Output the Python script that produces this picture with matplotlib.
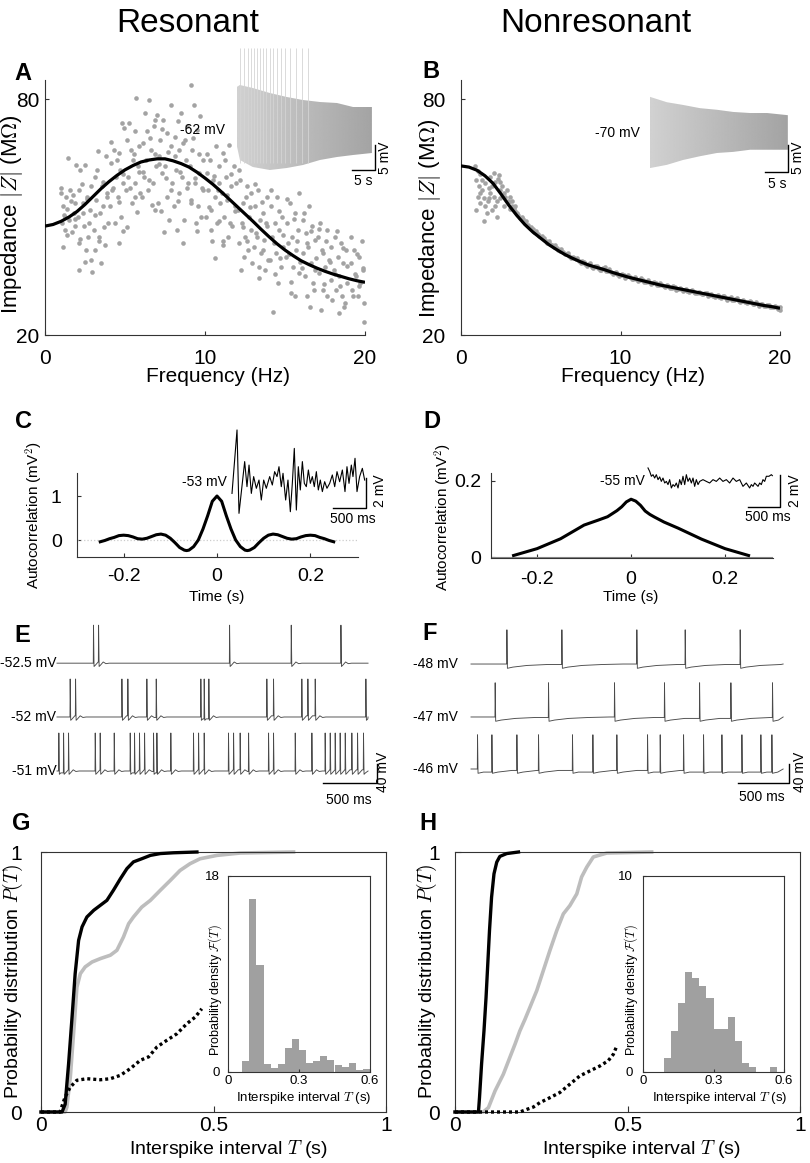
import numpy as np
import matplotlib
matplotlib.use('Agg')
import matplotlib.pyplot as plt

plt.rcParams['font.family'] = ['Liberation Sans', 'DejaVu Sans']
plt.rcParams['mathtext.fontset'] = 'cm'
plt.rcParams['axes.unicode_minus'] = False

# ---------------- data ----------------
# Panel A: resonant impedance scatter (Hz, MOhm)
imp_res_f = [1.45, 1.95, 1.0, 1.3, 1.6, 1.1, 1.8, 1.25, 1.5, 1.05, 1.7, 1.35, 1.15, 1.9, 1.2, 1.85,
             2.5, 2.2, 2.9, 2.1, 2.6, 2.35, 2.8, 2.05, 2.45, 2.7, 2.15, 2.55, 2.1, 2.95, 2.85,
             3.3, 3.8, 3.1, 3.55, 3.9, 3.2, 3.65, 3.45, 3.95, 3.05, 3.35, 3.75, 3.5, 3.15,
             4.8, 4.95, 4.3, 4.6, 4.1, 4.7, 4.45, 4.9, 4.2, 4.55, 4.05, 4.75, 4.35, 4.65,
             5.7, 5.6, 5.1, 5.9, 5.35, 5.5, 5.8, 5.2, 5.65, 5.05, 5.95, 5.45, 5.75,
             6.5, 6.9, 6.8, 6.4, 6.1, 6.6, 6.3, 6.95, 6.2, 6.75, 6.45, 6.05, 6.85,
             7.9, 7.0, 7.4, 7.6, 7.2, 7.85, 7.1, 7.5, 7.3, 7.95, 7.65, 7.05, 7.75, 7.45,
             8.5, 8.9, 8.1, 8.6, 8.35, 8.8, 8.2, 8.55, 8.95, 8.4, 8.05, 8.7, 8.25, 8.65,
             9.1, 9.3, 9.7, 9.5, 9.2, 9.85, 9.05, 9.6, 9.35, 9.9, 9.15, 9.55, 9.75, 9.45,
             10.7, 10.3, 10.9, 10.1, 10.5, 10.85, 10.2, 10.6, 10.95, 10.4, 10.05, 10.75, 10.35, 10.65,
             11.5, 11.1, 11.8, 11.3, 11.95, 11.6, 11.05, 11.4, 11.85, 11.2, 11.7, 11.45, 11.15,
             12.2, 12.6, 12.9, 12.4, 12.05, 12.75, 12.3, 12.85, 12.5, 12.15, 12.7, 12.45, 12.95,
             13.3, 13.9, 13.1, 13.6, 13.45, 13.85, 13.2, 13.7, 13.05, 13.5, 13.95, 13.35, 13.75,
             14.5, 14.1, 14.8, 14.35, 14.65, 14.2, 14.9, 14.45, 14.05, 14.75, 14.55, 14.25,
             15.9, 15.3, 15.6, 15.1, 15.8, 15.45, 15.2, 15.7, 15.05, 15.5, 15.85, 15.35, 15.65,
             16.5, 16.1, 16.7, 16.3, 16.9, 16.45, 16.15, 16.6, 16.85, 16.25, 16.75, 16.35, 16.55,
             17.2, 17.6, 17.05, 17.9, 17.35, 17.75, 17.5, 17.1, 17.85, 17.4, 17.65, 17.25,
             18.1, 18.5, 18.8, 18.3, 18.65, 18.05, 18.4, 18.9, 18.2, 18.55, 18.75, 18.35,
             19.8, 19.3, 19.6, 19.1, 19.9, 19.45, 19.7, 19.2, 19.55, 19.95, 19.95,
             1.02, 1.55, 1.75, 1.4, 1.9, 1.22, 2.3, 2.65, 2.4, 2.75, 2.2, 2.5,
             3.25, 3.6, 3.85, 3.1, 3.7, 3.4, 4.15, 4.5, 4.85, 4.25, 4.6, 4.9,
             5.25, 5.55, 5.85, 5.3, 5.6, 5.15, 6.25, 6.55, 6.85, 6.15, 6.5, 6.7,
             7.3, 7.7, 7.15, 7.55, 7.85, 7.25, 8.3, 8.75, 8.15, 8.45, 8.85, 8.3,
             9.25, 9.65, 9.4, 9.8, 9.1, 9.5, 10.15, 10.55, 10.8, 10.25, 10.9, 10.45,
             11.25, 11.65, 11.35, 11.9, 11.55, 11.1, 12.1, 12.55, 12.8, 12.35, 12.65, 12.25,
             13.15, 13.55, 13.8, 13.25, 13.65, 13.4, 14.15, 14.6, 14.85, 14.3, 14.7, 14.4,
             15.15, 15.55, 15.75, 15.25, 15.95, 15.4, 16.2, 16.65, 16.4, 16.95, 16.05, 16.8,
             17.15, 17.55, 17.3, 17.8, 17.45, 17.95, 18.25, 18.6, 18.85, 18.15, 18.45, 18.7,
             19.15, 19.5, 19.85, 19.35, 19.65, 19.25]
imp_res_z = [65.0, 63.3, 56.1, 55.2, 54.0, 52.7, 51.0, 50.1, 49.3, 48.4, 46.3, 45.5, 42.5, 53.5, 50.5, 47.6,
             63.3, 62.0, 57.8, 56.9, 55.2, 53.5, 51.8, 50.1, 47.6, 45.0, 43.3, 41.6, 36.6, 36.1, 39.1,
             66.7, 65.4, 60.3, 57.8, 56.1, 54.4, 52.7, 51.0, 48.4, 46.7, 43.8, 42.9, 38.3, 41.6,
             73.9, 72.6, 67.1, 66.3, 63.7, 62.0, 60.3, 58.6, 56.9, 55.2, 52.7, 50.1, 48.4, 43.3,
             80.3, 71.8, 69.7, 68.0, 67.1, 64.6, 62.9, 60.3, 58.6, 56.9, 56.1, 53.5, 51.4,
             79.8, 74.8, 73.1, 71.8, 68.8, 67.1, 64.6, 62.9, 60.3, 58.6, 56.9, 55.2, 51.8,
             78.6, 76.0, 74.8, 71.4, 69.7, 68.0, 65.4, 62.9, 61.2, 58.6, 55.2, 53.5, 49.3, 46.3,
             76.5, 73.1, 70.3, 68.8, 67.1, 64.6, 62.0, 60.3, 58.6, 56.1, 52.7, 49.3, 46.7, 43.3,
             83.7, 78.6, 75.6, 72.2, 67.1, 64.6, 62.9, 61.2, 58.6, 56.9, 54.4, 52.7, 50.1, 48.4,
             68.0, 64.6, 62.9, 61.2, 59.5, 58.6, 56.9, 55.2, 53.5, 51.8, 50.1, 48.4, 46.7, 39.5,
             68.4, 66.3, 62.9, 60.3, 58.6, 57.8, 56.1, 54.4, 52.7, 50.1, 47.6, 45.0, 42.9,
             59.5, 57.8, 56.1, 53.5, 51.8, 50.1, 48.4, 46.7, 45.0, 43.3, 41.6, 39.9, 38.3,
             56.9, 55.2, 52.7, 51.0, 49.3, 47.6, 45.9, 44.2, 42.5, 40.8, 39.1, 37.4, 36.6,
             55.2, 52.7, 50.1, 48.4, 46.7, 45.0, 42.5, 40.8, 39.1, 37.4, 33.2, 25.9,
             56.1, 53.5, 51.0, 48.4, 46.7, 45.0, 43.3, 41.6, 39.9, 37.4, 35.7, 30.6, 29.8,
             52.7, 49.3, 47.6, 45.9, 44.2, 42.5, 40.8, 38.3, 36.6, 34.9, 33.2, 29.8, 27.2,
             48.4, 46.7, 45.0, 42.5, 40.8, 39.1, 37.4, 35.7, 34.0, 31.5, 29.8, 26.4,
             45.0, 43.3, 41.6, 39.9, 38.3, 36.6, 34.9, 33.2, 31.5, 29.8, 28.1, 25.5,
             43.8, 41.6, 39.9, 38.3, 36.6, 34.9, 33.2, 31.5, 29.8, 28.1, 23.4,
             57.5, 57.0, 55.5, 52.0, 49.5, 46.8, 58.5, 54.5, 51.0, 48.5, 44.5, 38.5,
             62.0, 59.0, 55.0, 50.5, 47.5, 45.0, 69.0, 64.5, 61.0, 57.5, 53.8, 46.5,
             74.0, 66.0, 61.5, 57.5, 55.0, 47.5, 76.5, 70.0, 66.0, 61.5, 59.5, 53.0,
             72.5, 66.5, 63.5, 60.0, 57.0, 51.5, 74.5, 69.5, 65.5, 61.5, 57.5, 54.0,
             70.0, 66.0, 60.0, 57.5, 53.5, 46.5, 66.0, 60.5, 57.0, 52.5, 49.0, 44.0,
             64.5, 61.0, 55.5, 51.5, 48.5, 44.0, 62.0, 55.0, 52.5, 47.5, 44.0, 36.5,
             58.5, 53.8, 48.5, 45.0, 41.5, 34.5, 57.0, 51.5, 45.5, 43.5, 39.5, 35.5,
             54.5, 49.5, 44.0, 40.5, 38.5, 33.5, 51.0, 46.5, 43.5, 39.5, 37.0, 31.5,
             47.0, 44.0, 41.5, 38.5, 33.0, 29.0, 46.5, 42.0, 37.5, 35.5, 32.5, 27.0,
             45.0, 40.5, 37.0, 35.5, 32.5, 30.0]

fit_f = [0, 0.5, 1, 1.5, 2, 2.5, 3, 3.5, 4, 4.5, 5, 5.5, 6, 6.5, 7, 7.5, 8, 8.5, 9, 9.5, 10,
         10.5, 11, 11.5, 12, 12.5, 13, 13.5, 14, 14.5, 15, 15.5, 16, 16.5, 17, 17.5, 18, 18.5, 19, 19.5, 20]
fit_res_z = [47.7, 48.1, 48.9, 50.0, 51.4, 53.2, 55.2, 57.2, 59.0, 60.6, 62.0, 63.1, 64.0, 64.5, 64.8, 64.8,
             64.3, 63.6, 62.7, 61.4, 59.9, 58.3, 56.5, 54.6, 52.7, 50.8, 48.9, 46.9, 45.0, 43.2, 41.6,
             40.2, 38.9, 37.9, 37.0, 36.2, 35.5, 34.9, 34.3, 33.8, 33.4]
fit_nonres_z = [63.0, 62.7, 61.9, 60.5, 58.6, 55.9, 53.0, 50.4, 48.1, 46.2, 44.6, 43.0, 41.7, 40.5, 39.5,
                38.6, 37.8, 37.2, 36.6, 35.9, 35.3, 34.7, 34.2, 33.7, 33.2, 32.7, 32.3, 31.9, 31.5, 31.1,
                30.7, 30.3, 29.9, 29.5, 29.1, 28.7, 28.3, 27.9, 27.5, 27.2, 26.8]

# Panel B: nonresonant impedance scatter
imp_nonres_f = [0.9, 1.04, 1.21, 0.96, 1.1, 1.3, 1.04, 1.42, 1.21, 0.96, 1.52, 1.67, 1.84, 1.94, 2.15, 2.3,
                2.46, 1.52, 1.73, 2.05, 2.25, 2.42, 2.57, 2.67, 2.78, 2.92, 2.15, 1.63, 1.42, 2.25, 1.94,
                1.32, 1.8, 2.09, 2.36, 1.21, 1.73, 2.46, 2.71, 2.88, 3.09, 3.19, 3.4,
                3.0, 3.2, 3.4, 3.6, 3.8, 4.0, 4.2, 4.4, 4.6, 4.8, 5.0, 5.2, 5.4, 5.6, 5.8, 6.0, 6.2, 6.4,
                6.6, 6.8, 7.0, 7.2, 7.4, 7.6, 7.8, 8.0, 8.2, 8.4, 8.6, 8.8, 9.0, 9.2, 9.4, 9.6, 9.8, 10.0,
                10.2, 10.4, 10.6, 10.8, 11.0, 11.2, 11.4, 11.6, 11.8, 12.0, 12.2, 12.4, 12.6, 12.8, 13.0,
                13.2, 13.4, 13.6, 13.8, 14.0, 14.2, 14.4, 14.6, 14.8, 15.0, 15.2, 15.4, 15.6, 15.8, 16.0,
                16.2, 16.4, 16.6, 16.8, 17.0, 17.2, 17.4, 17.6, 17.8, 18.0, 18.2, 18.4, 18.6, 18.8, 19.0,
                19.2, 19.4, 19.6, 19.8, 20.0,
                3.1, 3.3, 3.5, 3.7, 3.9, 4.1, 4.3, 4.5, 4.7, 4.9, 5.1, 5.3, 5.5, 5.7, 5.9, 6.1, 6.3, 6.5,
                6.7, 6.9, 7.1, 7.3, 7.5, 7.7, 7.9, 8.1, 8.3, 8.5, 8.7, 8.9, 9.1, 9.3, 9.5, 9.7, 9.9, 10.1,
                10.3, 10.5, 10.7, 10.9, 11.1, 11.3, 11.5, 11.7, 11.9, 12.1, 12.3, 12.5, 12.7, 12.9, 13.1,
                13.3, 13.5, 13.7, 13.9, 14.1, 14.3, 14.5, 14.7, 14.9, 15.1, 15.3, 15.5, 15.7, 15.9, 16.1,
                16.3, 16.5, 16.7, 16.9, 17.1, 17.3, 17.5, 17.7, 17.9, 18.1, 18.3, 18.5, 18.7, 18.9, 19.1,
                19.3, 19.5, 19.7, 19.9, 20.0]
imp_nonres_z = [62.9, 61.6, 61.0, 59.5, 57.8, 56.9, 55.2, 54.8, 53.5, 51.8, 52.7, 54.0, 56.1, 57.8, 59.0, 59.6,
                59.0, 58.6, 57.4, 55.2, 54.0, 56.9, 57.8, 56.1, 55.2, 54.0, 52.7, 51.0, 48.9, 50.1, 51.8,
                59.5, 60.2, 61.2, 60.7, 56.1, 54.8, 54.8, 52.7, 56.9, 55.2, 54.0, 52.7,
                53.8, 52.9, 51.5, 50.6, 49.9, 48.6, 48.0, 47.5, 46.2, 45.8, 45.0, 44.6, 43.5, 43.2, 42.4,
                42.2, 41.3, 41.0, 40.6, 40.0, 39.9, 39.3, 38.8, 38.8, 38.0, 38.0, 37.4, 37.6, 37.0, 36.6,
                37.4, 36.4, 36.0, 35.8, 35.6, 35.2, 35.3, 34.9, 34.8, 34.2, 34.3, 34.0, 33.9, 33.4, 33.5,
                33.1, 33.2, 32.8, 32.7, 32.3, 32.4, 32.0, 32.1, 31.7, 31.6, 31.5, 31.2, 31.3, 30.9, 30.8,
                30.7, 30.4, 30.6, 30.1, 30.0, 29.9, 29.7, 29.8, 29.3, 29.4, 29.0, 29.1, 28.7, 28.6, 28.5,
                28.3, 28.4, 28.0, 27.8, 27.9, 27.4, 27.6, 27.2, 27.0, 27.1, 26.4,
                52.0, 52.3, 51.0, 49.7, 49.6, 48.9, 47.2, 47.0, 46.5, 45.2, 45.3, 44.0, 43.9, 42.8, 42.9,
                41.6, 41.8, 40.5, 40.8, 39.6, 39.6, 39.5, 38.4, 38.6, 37.6, 38.3, 37.1, 37.5, 36.6, 37.1,
                36.2, 36.7, 35.6, 36.1, 35.0, 35.6, 34.6, 35.2, 34.3, 34.7, 33.8, 34.4, 33.5, 33.9, 33.0,
                33.5, 32.6, 33.1, 32.4, 32.8, 31.9, 32.4, 31.5, 32.0, 31.2, 31.7, 30.9, 31.4, 30.6, 31.0,
                30.3, 30.8, 30.0, 30.4, 29.7, 30.2, 29.4, 29.9, 29.0, 29.6, 28.8, 29.3, 28.4, 28.9, 28.1,
                28.6, 27.9, 28.3, 27.5, 28.0, 27.3, 27.7, 27.0, 27.4, 26.6, 27.0]

# chirp insets (s, mV relative to holding potential)
chirp_res_t = [0.8, 1.5, 4.3, 8.0, 11.7, 15.2, 18.9, 22.6, 26.1, 30.2]
chirp_res_up = [8.6, 9.0, 8.4, 7.4, 6.6, 6.0, 5.6, 5.4, 4.6, 4.6]
chirp_res_lo = [-3.0, -6.0, -7.4, -8.0, -7.6, -7.0, -6.0, -5.4, -5.0, -4.6]
chirp_res_spikes = [1.5, 2.4, 3.3, 3.9, 4.6, 5.2, 5.9, 6.5, 7.2, 8.0, 8.7, 9.6, 10.4, 11.3, 12.4, 13.7, 15.0, 16.3]
chirp_res_spike_top = 16.4
chirp_non_t = [0.4, 4.1, 7.6, 11.3, 15.0, 18.5, 22.2, 25.9, 30.4]
chirp_non_up = [6.7, 5.7, 5.2, 4.6, 4.3, 3.9, 3.7, 3.7, 3.3]
chirp_non_lo = [-6.5, -5.9, -5.0, -4.3, -3.7, -3.5, -3.1, -3.1, -3.1]

# Panel C/D autocorrelation
ac_res_t = [-0.25, -0.24, -0.23, -0.22, -0.21, -0.2, -0.19, -0.18, -0.17, -0.16, -0.15, -0.14, -0.13, -0.12,
            -0.11, -0.1, -0.09, -0.08, -0.07, -0.065, -0.06, -0.05, -0.04, -0.03, -0.02, -0.01, 0,
            0.01, 0.02, 0.03, 0.04, 0.05, 0.06, 0.065, 0.07, 0.08, 0.09, 0.1, 0.11, 0.12, 0.13, 0.14,
            0.15, 0.16, 0.17, 0.18, 0.19, 0.2, 0.21, 0.22, 0.23, 0.24, 0.25]
ac_res_v = [-0.04, -0.01, 0.03, 0.06, 0.10, 0.11, 0.10, 0.07, 0.03, 0.02, 0.04, 0.08, 0.12, 0.135,
            0.11, 0.04, -0.06, -0.17, -0.23, -0.24, -0.23, -0.15, 0.0, 0.25, 0.55, 0.88, 1.0,
            0.88, 0.55, 0.25, 0.0, -0.15, -0.23, -0.24, -0.23, -0.17, -0.06, 0.04, 0.11, 0.135, 0.12, 0.08,
            0.04, 0.02, 0.03, 0.07, 0.10, 0.11, 0.10, 0.06, 0.03, -0.01, -0.04]
ac_non_t = [-0.25, -0.2, -0.15, -0.1, -0.07, -0.05, -0.04, -0.03, -0.02, -0.01, 0, 0.01, 0.02, 0.03, 0.04,
            0.05, 0.07, 0.1, 0.15, 0.2, 0.25]
ac_non_v = [0.004, 0.022, 0.048, 0.084, 0.097, 0.106, 0.114, 0.122, 0.132, 0.145, 0.152, 0.147, 0.136,
            0.121, 0.112, 0.105, 0.092, 0.076, 0.047, 0.022, 0.004]

# voltage traces in the C/D insets (s, mV re holding)
vt_res_t = [0, 0.076, 0.106, 0.192, 0.227, 0.258, 0.293, 0.328, 0.369, 0.409, 0.444, 0.48, 0.52, 0.571,
            0.611, 0.646, 0.682, 0.712, 0.747, 0.773, 0.813, 0.848, 0.884, 0.914, 0.944, 0.975, 1.005,
            1.035, 1.066, 1.096, 1.126, 1.157, 1.187, 1.217, 1.247, 1.278, 1.308, 1.338, 1.369, 1.404,
            1.439, 1.48, 1.52, 1.556, 1.591, 1.631, 1.672, 1.712, 1.742, 1.773, 1.808, 1.833, 1.864,
            1.894, 1.934, 1.975, 2.01]
vt_res_v = [-0.56, 3.67, -1.89, 1.56, -0.11, 1.33, -0.56, 0.56, -0.22, 0.33, -1.0, 0.33, -0.22, 0.56,
            0.0, 0.89, 0.56, 1.22, -0.11, 0.78, -1.0, 0.33, -1.78, 0.11, 2.44, -1.67, 1.22,
            -0.33, 1.56, 0.11, -0.11, 1.0, 0.11, 0.56, -0.11, 0.89, -0.33, 0.33, -0.44, 0.22,
            -0.22, 0.11, 0.67, -0.11, 0.89, 0.22, 1.0, -0.44, 1.22, 0.11, 1.33, 0.56, 1.78,
            -0.44, 0.56, 1.11, 0.33]
vt_non_t = [0.0, 0.025, 0.051, 0.076, 0.101, 0.126, 0.152, 0.177, 0.202, 0.227, 0.253, 0.278, 0.303, 0.328,
            0.354, 0.379, 0.404, 0.429, 0.455, 0.48, 0.505, 0.53, 0.556, 0.581, 0.606, 0.631, 0.657,
            0.682, 0.707, 0.732, 0.758, 0.783, 0.833, 0.884, 0.934, 0.985, 1.035, 1.086, 1.136, 1.187,
            1.237, 1.288, 1.338, 1.389, 1.439, 1.49, 1.54, 1.566, 1.591, 1.616, 1.641, 1.667, 1.692,
            1.717, 1.742, 1.768, 1.793, 1.833, 1.869, 1.884]
vt_non_v = [0.94, 0.73, 0.42, 0.52, 0.31, 0.52, 0.21, 0.38, 0.1, 0.31, 0.0, 0.1, -0.1, 0.21, -0.31, -0.1,
            -0.21, 0.0, -0.31, 0.21, -0.1, 0.42, -0.1, 0.52, 0.1, 0.31, 0.0, 0.31, -0.21, 0.21, -0.1, 0.1,
            0.21, 0.1, 0.0, 0.21, 0.1, 0.31, 0.1, 0.21, 0.0, 0.31, 0.1, 0.21, -0.21, 0.0, -0.31, -0.1,
            -0.21, 0.0, -0.1, -0.21, 0.0, -0.1, 0.21, 0.1, 0.42, 0.42, 0.52, 0.46]

# Panel E/F spike times (s)
spk_res_rows = [[0.336, 0.383, 1.596, 2.167, 2.627],
                [0.120, 0.170, 0.599, 0.654, 0.830, 0.917, 1.330, 1.361, 1.404, 1.941, 2.003, 2.265,
                 2.321, 2.389, 2.858],
                [0.015, 0.059, 0.105, 0.352, 0.398, 0.528, 0.676, 0.716, 0.762, 0.809, 0.892, 0.923,
                 1.052, 1.262, 1.309, 1.361, 1.586, 1.633, 1.694, 1.772, 1.957, 2.003, 2.204, 2.358,
                 2.481, 2.528, 2.574, 2.620, 2.667, 2.728, 2.781, 2.836]]
spk_res_labels = ['-52.5 mV', '-52 mV', '-51 mV']
spk_non_rows = [[0.350, 0.889, 1.624, 2.098, 2.637],
                [0.235, 0.758, 1.405, 1.895, 2.239, 2.546, 2.954],
                [0.062, 0.203, 0.448, 0.660, 0.993, 1.193, 1.428, 1.729, 1.853, 2.082, 2.278, 2.458,
                 2.654, 2.840, 2.948]]
spk_non_labels = ['-48 mV', '-47 mV', '-46 mV']

# Panel G/H cumulative ISI distributions
cdf_res_black_T = [0, 0.061, 0.07, 0.08, 0.09, 0.099, 0.109, 0.119, 0.133, 0.153, 0.172, 0.191, 0.21, 0.23,
                   0.249, 0.268, 0.292, 0.317, 0.346, 0.384, 0.452]
cdf_res_black_P = [0, 0, 0.03, 0.186, 0.365, 0.532, 0.66, 0.712, 0.75, 0.776, 0.795, 0.814, 0.853, 0.897,
                   0.936, 0.962, 0.974, 0.987, 0.994, 0.997, 1.0]
cdf_res_gray_T = [0, 0.07, 0.075, 0.085, 0.095, 0.104, 0.114, 0.128, 0.148, 0.172, 0.201, 0.22, 0.239, 0.254,
                  0.268, 0.292, 0.317, 0.346, 0.375, 0.403, 0.432, 0.461, 0.51, 0.577, 0.732]
cdf_res_gray_P = [0, 0, 0.019, 0.135, 0.314, 0.48, 0.532, 0.558, 0.577, 0.59, 0.603, 0.622, 0.673, 0.724,
                  0.75, 0.788, 0.814, 0.853, 0.891, 0.929, 0.955, 0.974, 0.987, 0.996, 1.0]
cdf_res_dot_T = [0, 0.055, 0.07, 0.085, 0.104, 0.133, 0.172, 0.201, 0.23, 0.259, 0.288, 0.312, 0.336, 0.365,
                 0.394, 0.423, 0.447, 0.466]
cdf_res_dot_P = [0, 0, 0.058, 0.096, 0.122, 0.128, 0.124, 0.128, 0.141, 0.167, 0.199, 0.212, 0.25, 0.276,
                 0.301, 0.34, 0.365, 0.397]
cdf_non_black_T = [0, 0.068, 0.071, 0.077, 0.084, 0.09, 0.095, 0.1, 0.106, 0.113, 0.121, 0.13, 0.15, 0.184]
cdf_non_black_P = [0, 0, 0.055, 0.184, 0.312, 0.441, 0.569, 0.698, 0.826, 0.916, 0.961, 0.983, 0.994, 1.0]
cdf_non_gray_T = [0, 0.082, 0.097, 0.116, 0.14, 0.159, 0.174, 0.188, 0.203, 0.217, 0.237, 0.256, 0.275, 0.295,
                  0.314, 0.333, 0.353, 0.367, 0.382, 0.401, 0.44, 0.57]
cdf_non_gray_P = [0, 0, 0.017, 0.081, 0.145, 0.21, 0.261, 0.312, 0.357, 0.402, 0.467, 0.544, 0.621, 0.698,
                  0.762, 0.794, 0.839, 0.904, 0.942, 0.981, 0.996, 1.0]
cdf_non_dot_T = [0, 0.188, 0.208, 0.227, 0.246, 0.275, 0.304, 0.333, 0.362, 0.391, 0.42, 0.444, 0.459, 0.469]
cdf_non_dot_P = [0, 0, 0.01, 0.019, 0.036, 0.055, 0.075, 0.107, 0.139, 0.158, 0.177, 0.197, 0.222, 0.254]

# ISI histograms (left bin edges, density)
hist_res_left = [0.06, 0.09, 0.12, 0.15, 0.18, 0.21, 0.24, 0.27, 0.30, 0.33, 0.36, 0.39, 0.42, 0.45, 0.48,
                 0.51, 0.54, 0.57]
hist_res_dens = [1.0, 15.9, 9.8, 0.7, 0.4, 0.7, 2.2, 3.0, 2.0, 0.8, 1.0, 1.5, 1.1, 0.6, 0.5, 0.8, 0.2, 0.3]
hist_non_left = [0.09, 0.12, 0.15, 0.18, 0.21, 0.24, 0.27, 0.30, 0.33, 0.36, 0.39, 0.42, 0.45, 0.48, 0.51,
                 0.54, 0.57]
hist_non_dens = [0.7, 2.1, 3.5, 5.1, 4.8, 4.4, 3.8, 2.2, 2.2, 2.8, 1.6, 0.45, 0.25, 0, 0, 0.25, 0]
hist_width = 0.03

# ---------------- figure ----------------
W, H = 810, 1163
fig = plt.figure(figsize=(W / 100, H / 100), dpi=100)
SP = '#333333'
DOT = '#a3a3a3'
TXT = 10


def rect_ax(x0, y0, x1, y1):
    return fig.add_axes([x0 / W, 1 - y1 / H, (x1 - x0) / W, (y1 - y0) / H])


def map_ax(x0, y0, x1, y1, ox, oy, sx, sy):
    ax = rect_ax(x0, y0, x1, y1)
    ax.set_xlim((x0 - ox) / sx, (x1 - ox) / sx)
    ax.set_ylim((oy - y1) / sy, (oy - y0) / sy)
    ax.axis('off')
    return ax


def ftext(x, y, s, **kw):
    kw.setdefault('ha', 'center')
    kw.setdefault('va', 'center')
    return fig.text(x / W, 1 - y / H, s, **kw)


def style(ax, spines=('left', 'bottom'), size=15, padx=8, pady=4, length=3):
    for k, sp in ax.spines.items():
        sp.set_visible(k in spines)
        sp.set_color(SP)
        sp.set_linewidth(0.8)
    ax.tick_params(direction='in', length=length, width=0.8, color=SP, labelsize=size)
    ax.tick_params(axis='x', pad=padx)
    ax.tick_params(axis='y', pad=pady)


def chirp_fill(ax, t, lo, up):
    poly = ax.fill_between(t, lo, up, color='none', lw=0)
    grad = np.linspace(0.82, 0.64, 256).reshape(1, -1)
    im = ax.imshow(grad, cmap='gray', vmin=0, vmax=1, aspect='auto', interpolation='bilinear',
                   extent=(t[0], t[-1], min(lo), max(up)), zorder=1)
    im.set_clip_path(poly.get_paths()[0], transform=ax.transData)


# titles
ftext(188, 24, 'Resonant', fontsize=24)
ftext(596, 24, 'Nonresonant', fontsize=24)

# panel letters
for lab, (x, y) in zip('ABCDEFGH', [(23, 73), (431, 72), (23, 422), (432, 422), (22, 635), (430, 634),
                                     (21, 823), (428, 823)]):
    ftext(x, y, lab, fontsize=17, fontweight='bold')

# ---- A / B impedance ----
for (x0, x1, fz, zz, fitz, padl, ylx, yly, ylsize, xlx) in [
        (45, 365, imp_res_f, imp_res_z, fit_res_z, 4, 12, 214, 16, 218),
        (461, 780, imp_nonres_f, imp_nonres_z, fit_nonres_z, 11, 430, 218, 16, 633)]:
    ax = rect_ax(x0, 80, x1, 335)
    ax.set_xlim(0, 20)
    ax.set_ylim(20, 84.85)
    ax.scatter(fz, zz, s=11, color=DOT, linewidths=0, zorder=2, clip_on=False)
    ax.plot(fit_f, fitz, color='black', lw=2.3, zorder=3, solid_capstyle='butt')
    ax.set_xticks([0, 10, 20])
    ax.set_yticks([20, 80])
    style(ax, padx=10, pady=padl)
    ax.patch.set_alpha(0)
    ftext(ylx, yly, r'Impedance $|Z|$ (M$\Omega$)', rotation=90, fontsize=ylsize)
    ftext(xlx, 376, 'Frequency (Hz)', fontsize=15)

# chirp inset A
ax = map_ax(225, 40, 400, 200, ox=233, oy=130, sx=4.6, sy=5.0)
chirp_fill(ax, chirp_res_t, chirp_res_lo, chirp_res_up)
ax.vlines(chirp_res_spikes, -6.5, chirp_res_spike_top, color='#d4d4d4', lw=0.6, zorder=2)
ax.plot([25.9, 30.9, 30.9], [-8, -8, -3], color='black', lw=1, zorder=3)
ax.text(28.4, -10.2, '5 s', ha='center', va='center', fontsize=TXT)
ax.text(33.0, -5.5, '5 mV', ha='center', va='center', rotation=90, fontsize=TXT)
ftext(225, 130, '-62 mV', ha='right', fontsize=TXT)

# chirp inset B
ax = map_ax(640, 60, 810, 200, ox=648, oy=133, sx=4.6, sy=5.4)
chirp_fill(ax, chirp_non_t, chirp_non_lo, chirp_non_up)
ax.plot([25.4, 30.4, 30.4], [-7.2, -7.2, -2.2], color='black', lw=1, zorder=3)
ax.text(28.0, -9.4, '5 s', ha='center', va='center', fontsize=TXT)
ax.text(32.6, -4.6, '5 mV', ha='center', va='center', rotation=90, fontsize=TXT)
ftext(640, 133, '-70 mV', ha='right', fontsize=TXT)

# ---- C autocorrelation ----
ax = rect_ax(77, 473, 358, 557)
ax.set_xlim(-0.2998, 0.302)
ax.set_ylim(-0.386, 1.523)
ax.axhline(0, color='#cccccc', lw=0.9, ls=':')
ax.plot(ac_res_t, ac_res_v, color='black', lw=2.2)
ax.set_xticks([-0.2, 0, 0.2])
ax.set_xticklabels(['-0.2', '0', '0.2'])
ax.set_yticks([0, 1])
style(ax, size=14, padx=8, pady=11)
ftext(34, 515, r'Autocorrelation (mV$^2$)', rotation=90, fontsize=11)
ftext(217, 597, 'Time (s)', fontsize=11)

ax = map_ax(180, 420, 400, 530, ox=232, oy=485, sx=66, sy=15)
ax.plot(vt_res_t, vt_res_v, color='black', lw=0.8)
ax.plot([1.53, 2.03, 2.03], [-1.53, -1.53, 0.47], color='black', lw=1)
ax.text(1.83, -2.25, '500 ms', ha='center', va='center', fontsize=TXT)
ax.text(2.25, -0.35, '2 mV', ha='center', va='center', rotation=90, fontsize=TXT)
ftext(227, 482, '-53 mV', ha='right', fontsize=TXT)

# ---- D autocorrelation ----
ax = rect_ax(491, 473, 773, 558)
ax.set_xlim(-0.298, 0.302)
ax.set_ylim(-0.0026, 0.221)
ax.axhline(0, color='#888888', lw=0.8)
ax.plot(ac_non_t, ac_non_v, color='black', lw=2.2)
ax.set_xticks([-0.2, 0, 0.2])
ax.set_xticklabels(['-0.2', '0', '0.2'])
ax.set_yticks([0, 0.2])
ax.set_yticklabels(['0', '0.2'])
style(ax, size=14, padx=9, pady=7)
ftext(443, 517, r'Autocorrelation (mV$^2$)', rotation=90, fontsize=11)
ftext(631, 597, 'Time (s)', fontsize=11)

ax = map_ax(600, 420, 810, 530, ox=648, oy=483, sx=66, sy=16)
ax.plot(vt_non_t, vt_non_v, color='black', lw=0.8)
ax.plot([1.52, 2.0, 2.0], [-1.5, -1.5, 0.5], color='black', lw=1)
ax.text(1.82, -2.15, '500 ms', ha='center', va='center', fontsize=TXT)
ax.text(2.23, -0.45, '2 mV', ha='center', va='center', rotation=90, fontsize=TXT)
ftext(645, 481, '-55 mV', ha='right', fontsize=TXT)


# ---- E / F spike trains ----
def build_trace(spikes, t_end, tmpl):
    ts, vs = [0.0], [0.0]
    for i, s in enumerate(spikes):
        nxt = spikes[i + 1] if i + 1 < len(spikes) else t_end
        ts.append(s)
        vs.append(vs[-1])
        for dt, v in tmpl[1:]:
            if s + dt < nxt:
                ts.append(s + dt)
                vs.append(v)
    ts.append(t_end)
    vs.append(0.0)
    return np.array(ts), np.array(vs)


tmpl_res = [(0, 0), (0.002, 80), (0.007, -7), (0.02, -4), (0.045, 2.5), (0.07, -1), (0.1, 0)]
tmpl_non = [(0, 0), (0.002, 72), (0.007, -9), (0.06, -6.5), (0.2, -3), (0.4, -1), (0.6, 0)]

for (x0, x1, ox, oy, sx, rows, labels, tmpl, t_end, offs, lab_x, bar) in [
        (0, 400, 57, 771, 108, spk_res_rows, spk_res_labels, tmpl_res, 2.88, [227, 113.7, 0], -0.005,
         (2.463, 2.963, -25.3, 14.7, 2.70, -61, 3.02, -2)),
        (400, 810, 471, 769, 102, spk_non_rows, spk_non_labels, tmpl_non, 3.06, [221, 109.5, 0], -0.125,
         (2.618, 3.118, -29.5, 10.5, 2.85, -58, 3.23, -6))]:
    ax = map_ax(x0, 615, x1, 815, ox=ox, oy=oy, sx=sx, sy=0.475)
    for spikes, lab, off in zip(rows, labels, offs):
        t, v = build_trace(spikes, t_end, tmpl)
        ax.plot(t, v + off, color='#4a4a4a', lw=0.65)
        ax.text(lab_x, off, lab, ha='right', va='center', fontsize=TXT)
    b0, b1, v0, v1, tx, ty, rx, ry = bar
    ax.plot([b0, b1, b1], [v0, v0, v1], color='black', lw=1)
    ax.text(tx, ty, '500 ms', ha='center', va='center', fontsize=TXT)
    ax.text(rx, ry, '40 mV', ha='center', va='center', rotation=90, fontsize=TXT)

# ---- G / H ISI distributions ----
for (x0, x1, bk, gr, dt, ylab_x, xlab_x, pady, inset, hleft, hdens, hmax, hy_x, hx_x, ipady) in [
        (41, 386, (cdf_res_black_T, cdf_res_black_P), (cdf_res_gray_T, cdf_res_gray_P),
         (cdf_res_dot_T, cdf_res_dot_P), 13, 228, 14, (228, 370), hist_res_left, hist_res_dens, 18, 215, 304, 6),
        (455, 800, (cdf_non_black_T, cdf_non_black_P), (cdf_non_gray_T, cdf_non_gray_P),
         (cdf_non_dot_T, cdf_non_dot_P), 427, 641, 11, (643, 784), hist_non_left, hist_non_dens, 10, 631, 720, 7)]:
    ax = rect_ax(x0, 852, x1, 1112)
    ax.set_xlim(0, 1)
    ax.set_ylim(0, 1)
    ax.plot(*gr, color='#bdbdbd', lw=2.6, clip_on=False, zorder=2)
    ax.plot(*bk, color='black', lw=2.4, clip_on=False, zorder=3)
    ax.plot(*dt, color='black', lw=2.4, ls=(0, (0.9, 0.9)), clip_on=False, zorder=3)
    ax.set_xticks([0, 0.5, 1])
    ax.set_xticklabels(['0', '0.5', '1'])
    ax.set_yticks([0, 1])
    style(ax, spines=('left', 'bottom', 'top', 'right'), size=15, padx=3, pady=pady, length=4)
    ftext(ylab_x, 981, r'Probability distribution $P(T)$', rotation=90, fontsize=14)
    ftext(xlab_x, 1149, r'Interspike interval $T$ (s)', fontsize=14)

    ia = rect_ax(inset[0], 876, inset[1], 1072)
    ia.set_xlim(0, 0.6)
    ia.set_ylim(0, hmax)
    ia.bar(hleft, hdens, width=hist_width, align='edge', color='#a0a0a0', lw=0)
    ia.set_xticks([0, 0.3, 0.6])
    ia.set_xticklabels(['0', '0.3', '0.6'])
    ia.set_yticks([0, hmax])
    style(ia, spines=('left', 'bottom', 'top', 'right'), size=9.5, padx=2, pady=ipady, length=2)
    ftext(hy_x, 990, r'Probability density $\mathcal{F}(T)$', rotation=90, fontsize=9)
    ftext(hx_x, 1098, r'Interspike interval $T$ (s)', fontsize=9.5)

fig.savefig('out.png', dpi=100)
